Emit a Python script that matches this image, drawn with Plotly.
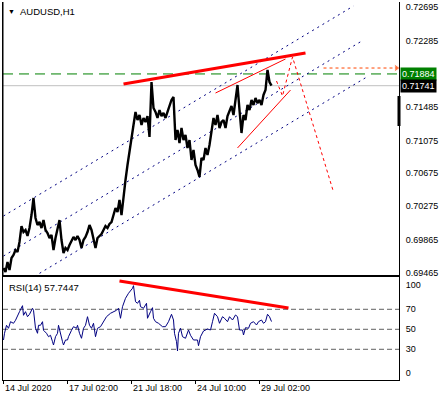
import plotly.graph_objects as go

# ---------------- data ----------------
# H1 bar index (0 = 14 Jul 2020 first bar); price sampled every 2 bars
price_vals = [
    0.69522, 0.69474, 0.69595, 0.69498, 0.69644, 0.69680, 0.69741, 0.69717, 0.69839, 0.70033,
    0.69960, 0.69985, 0.69912, 0.70009, 0.70167, 0.70374, 0.70131, 0.70046, 0.70082, 0.70009,
    0.70106, 0.69985, 0.69948, 0.69887, 0.69924, 0.69741, 0.69887, 0.70009, 0.70106, 0.69863,
    0.69705, 0.69766, 0.69741, 0.69802, 0.69863, 0.69900, 0.69863, 0.69912, 0.69863, 0.69766,
    0.69863, 0.69900, 0.69960, 0.70046, 0.69985, 0.69863, 0.69766, 0.69887, 0.69912, 0.69936,
    0.69985, 0.70033, 0.70009, 0.70058, 0.70082, 0.70167, 0.70252, 0.70204, 0.70350, 0.70167,
    0.70411, 0.70593, 0.70776, 0.70958, 0.71104, 0.71263, 0.71421, 0.71323, 0.71384, 0.71263,
    0.71348, 0.71299, 0.71372, 0.71117, 0.71786, 0.71469, 0.71421, 0.71348, 0.71445, 0.71372,
    0.71409, 0.71348, 0.71421, 0.71506, 0.71567, 0.71603, 0.71080, 0.71202, 0.71043, 0.71226,
    0.71080, 0.71141, 0.70983, 0.71080, 0.70837, 0.70958, 0.70776, 0.70715, 0.70630, 0.70861,
    0.70837, 0.70983, 0.70897, 0.71019, 0.71177, 0.71348, 0.71263, 0.71384, 0.71226, 0.71299,
    0.71323, 0.71226, 0.71372, 0.71445, 0.71494, 0.71384, 0.71567, 0.71749, 0.71445, 0.71165,
    0.71384, 0.71323, 0.71506, 0.71445, 0.71567, 0.71506, 0.71591, 0.71530, 0.71567, 0.71506,
    0.71628, 0.71688, 0.71932, 0.71786, 0.71741,
]
price_idx = list(range(0, 2 * len(price_vals), 2))

rsi_idx = [0, 1, 3, 5, 7, 10, 12, 14, 16, 19, 20, 22, 24, 26, 29, 30, 32, 34, 35, 37,
           39, 40, 43, 45, 47, 49, 50, 52, 54, 55, 57, 59, 60, 62, 64, 65, 68, 70, 73, 74,
           76, 78, 80, 82, 84, 86, 88, 90, 92, 94, 97, 100, 103, 107, 110, 113, 115, 117, 119, 122,
           125, 129, 130, 132, 134, 136, 137, 140, 143, 144, 147, 149, 150, 152, 155, 159, 162, 165, 168, 170,
           171, 173, 174, 175, 177, 179, 182, 185, 187, 190, 194, 195, 197, 200, 204, 207, 209, 211, 214, 216,
           219, 221, 224, 226, 229, 232, 234, 236, 239, 240, 242, 245, 247, 250, 253, 255, 258, 260, 262, 264,
           266, 268]
rsi_vals = [39.3, 46, 54, 51, 57.6, 56, 59, 62.6, 67.6, 73.6, 64, 67.6, 62.6, 65, 71, 69, 51, 46, 54, 54,
            57.6, 49, 46, 42.6, 44, 37.6, 34.3, 42.6, 46, 54, 44, 37.6, 34.3, 39.3, 39.3, 42.6, 49, 52.6, 51, 54,
            46, 41, 51, 54, 62.6, 54, 51, 56, 42.6, 51, 52.6, 57.6, 62.6, 66, 67.6, 69, 71, 61, 72.6, 81,
            86, 91, 93.6, 77.6, 76, 79, 72.6, 71, 76, 61, 67.6, 71.6, 61, 57.6, 56, 52.6, 52.6, 57.6, 65, 59.3,
            46, 37.6, 28.3, 46, 51, 42.6, 41, 49.3, 44, 39.3, 39.3, 33.6, 42.6, 48.3, 50.3, 49.3, 57.6, 66, 62.6, 56,
            62.6, 61, 57.6, 62.6, 59.3, 64.3, 62.6, 49.3, 49.3, 44.3, 51.6, 51, 56, 57.6, 54.3, 57.6, 59.3, 56, 57.6, 65,
            62.6, 57.74]

# chart drawings (anchor points: bar index, price)
chan_up_idx, chan_up_px = [0, 350], [0.70155, 0.72711]
chan_mid_idx, chan_mid_px = [0, 360], [0.69668, 0.72297]
chan_lo_idx, chan_lo_px = [0, 365], [0.69194, 0.71859]
res_idx, res_px = [120, 302], [0.71762, 0.72139]
wedge_up_idx, wedge_up_px = [212, 282], [0.71652, 0.72066]
wedge_lo_idx, wedge_lo_px = [234, 287], [0.70983, 0.71688]
proj_idx, proj_px = [273, 279, 289, 330], [0.71798, 0.71616, 0.72090, 0.70447]
target_idx, target_px = [320, 393], [0.71956, 0.71956]
rsi_tr_idx, rsi_tr_val = [116, 285], [98.3, 71.3]

level_green = 0.71884
level_bid = 0.71741

price_ticks = [0.72695, 0.72285, 0.71485, 0.71075, 0.70675, 0.70275, 0.69865, 0.69465]
rsi_tick_pos = [94.3, 70, 50, 30, 6.3]
rsi_tick_txt = ["100", "70", "50", "30", "0"]
rsi_levels = [70, 50, 30]
x_tick_idx = [0, 64, 128, 192, 256]
x_tick_txt = ["14 Jul 2020", "17 Jul 02:00", "21 Jul 18:00", "24 Jul 10:00", "29 Jul 02:00"]

FONT = "Liberation Sans, Arial, sans-serif"
XR = [-0.5, 395.5]

fig = go.Figure()

def line(x, y, color, width, dash="solid", ax=("x", "y"), mode="lines", marker=None):
    fig.add_trace(go.Scatter(x=x, y=y, mode=mode, xaxis=ax[0], yaxis=ax[1],
                             line=dict(color=color, width=width, dash=dash),
                             marker=marker, hoverinfo="skip", showlegend=False))

# horizontal levels
line([XR[0], XR[1]], [level_bid, level_bid], "#C0C0C0", 1)
line([XR[0], XR[1]], [level_green, level_green], "#008000", 1, "10px,6px")

# channel
for xi, yi in [(chan_up_idx, chan_up_px), (chan_mid_idx, chan_mid_px), (chan_lo_idx, chan_lo_px)]:
    line(xi, yi, "#000080", 1, "2px,4px")

# price
line(price_idx, price_vals, "black", 2.4)

# red drawings
line(res_idx, res_px, "#FF0000", 3)
line(wedge_up_idx, wedge_up_px, "#FF0000", 1)
line(wedge_lo_idx, wedge_lo_px, "#FF0000", 1)
line(proj_idx, proj_px, "#FF0000", 1, "3px,3px")
line(target_idx, target_px, "#FF4500", 1, "3px,3px", mode="lines+markers",
     marker=dict(symbol="triangle-right", size=[0, 7], color="#FF4500"))

# RSI pane
for lv in rsi_levels:
    line([XR[0], XR[1]], [lv, lv], "#606060", 1, "5px,3px", ax=("x2", "y2"))
line(rsi_idx, rsi_vals, "#000080", 1, ax=("x2", "y2"))
line(rsi_tr_idx, rsi_tr_val, "#FF0000", 3, ax=("x2", "y2"))

MAIN_DOM = [0.2765, 1.0]
RSI_DOM = [0.0, 0.2712]

axis_font = dict(family=FONT, size=9, color="black")
fig.update_layout(
    width=445, height=401,
    margin=dict(l=3, r=46, t=2, b=21),
    paper_bgcolor="white", plot_bgcolor="white",
    showlegend=False,
    xaxis=dict(domain=[0, 1], range=XR, anchor="y", showticklabels=False, showgrid=False,
               zeroline=False, showline=True, linecolor="black", linewidth=1, ticks=""),
    yaxis=dict(domain=MAIN_DOM, range=[0.694311, 0.727595], side="right", anchor="x",
               tickvals=price_ticks, ticktext=[f"{v:.5f}" for v in price_ticks],
               showgrid=False, zeroline=False, showline=True, mirror=True, linecolor="black",
               linewidth=1, ticks="", ticklabelstandoff=4, tickfont=axis_font),
    xaxis2=dict(domain=[0, 1], range=XR, anchor="y2", tickvals=x_tick_idx, showticklabels=False,
                ticks="outside", ticklen=3, tickcolor="black", showgrid=False, zeroline=False,
                showline=True, mirror=True, linecolor="black", linewidth=1),
    yaxis2=dict(domain=RSI_DOM, range=[-0.7, 101.8], side="right", anchor="x2",
                tickvals=rsi_tick_pos, ticktext=rsi_tick_txt, showgrid=False, zeroline=False,
                showline=True, mirror=True, linecolor="black", linewidth=1, ticks="",
                ticklabelstandoff=4, tickfont=axis_font),
)

ann = []
for xi, tx in zip(x_tick_idx, x_tick_txt):
    ann.append(dict(x=xi, y=-0.021, xref="x2", yref="paper", text=tx, showarrow=False,
                    xanchor="left", yanchor="middle", xshift=-1, font=axis_font))
ann.append(dict(x=1.0, y=level_green, xref="paper", yref="y", text="0.71884", showarrow=False,
                xanchor="left", yanchor="middle", xshift=1, bgcolor="#008000", borderpad=1,
                font=dict(family=FONT, size=9, color="white")))
ann.append(dict(x=1.0, y=level_bid, xref="paper", yref="y", text="0.71741", showarrow=False,
                xanchor="left", yanchor="middle", xshift=1, bgcolor="black", borderpad=1,
                font=dict(family=FONT, size=9, color="white")))
ann.append(dict(x=0.0076, y=0.976, xref="paper", yref="paper", text="▼", showarrow=False,
                xanchor="left", yanchor="middle", font=dict(family=FONT, size=7, color="black")))
ann.append(dict(x=0.0379, y=0.976, xref="paper", yref="paper", text="AUDUSD,H1", showarrow=False,
                xanchor="left", yanchor="middle", font=dict(family=FONT, size=9.5, color="black")))
ann.append(dict(x=0.0101, y=0.246, xref="paper", yref="paper", text="RSI(14) 57.7447", showarrow=False,
                xanchor="left", yanchor="middle", font=dict(family=FONT, size=9.5, color="black")))
fig.update_layout(annotations=ann)

# left frame line of the price pane and scale marker on the price axis
fig.add_shape(type="line", xref="paper", yref="paper", x0=0, x1=0, y0=MAIN_DOM[0], y1=1.0,
              line=dict(color="black", width=1))
fig.add_shape(type="line", xref="paper", yref="y", x0=1.0, x1=1.0, y0=0.71616, y1=0.71250,
              line=dict(color="black", width=3))

fig.write_html("out.html", include_plotlyjs=True, full_html=True,
               config={"displayModeBar": False, "staticPlot": True},
               post_script="document.body.style.margin='0';document.body.style.overflow='hidden';")
